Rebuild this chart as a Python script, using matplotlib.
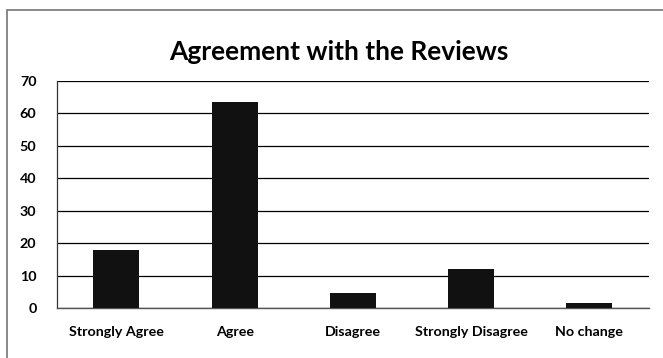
import matplotlib
matplotlib.use("Agg")
import matplotlib.pyplot as plt
from matplotlib.patches import Rectangle

plt.rcParams['font.family'] = ['Lato', 'DejaVu Sans']

# data
categories = ['Strongly Agree', 'Agree', 'Disagree', 'Strongly Disagree', 'No change']
values = [17.8, 63.3, 4.8, 12.2, 1.7]
y_ticks = [0, 10, 20, 30, 40, 50, 60, 70]

W, H = 663, 358
fig = plt.figure(figsize=(W / 100, H / 100), dpi=100)

# chart area border (clipped on right and bottom, as in the picture)
fig.patches.append(Rectangle((7 / W, -0.1), 1.2, 1 - 10 / H + 0.1,
                             transform=fig.transFigure, fill=False,
                             edgecolor='#7f7f7f', linewidth=1.3))

ax = fig.add_axes([57.3 / W, 1 - 308.3 / H, (648.5 - 57.3) / W, (308.3 - 80.5) / H])

x = range(len(categories))
ax.bar(x, values, width=0.39, color='#111111', zorder=3)

ax.set_xlim(-0.5, len(categories) - 0.5)
ax.set_ylim(0, 70)
ax.set_yticks(y_ticks)
ax.set_yticklabels([str(t) for t in y_ticks], fontsize=10.3, fontweight='bold')
ax.set_xticks(list(x))
ax.set_xticklabels(categories, fontsize=10.3, fontweight='bold')
ax.tick_params(axis='both', length=0)
ax.tick_params(axis='y', pad=15)
ax.tick_params(axis='x', pad=13)

ax.grid(axis='y', color='#000000', linewidth=0.9, zorder=0)
for s in ['top', 'right']:
    ax.spines[s].set_visible(False)
ax.spines['left'].set_color('#333333')
ax.spines['bottom'].set_color('#555555')
ax.spines['left'].set_linewidth(0.9)
ax.spines['bottom'].set_linewidth(1.0)

fig.text(339 / W, 1 - 52 / H, 'Agreement with the Reviews', ha='center', va='center',
         fontsize=19, fontweight='bold')

fig.savefig('out.png', dpi=100)
